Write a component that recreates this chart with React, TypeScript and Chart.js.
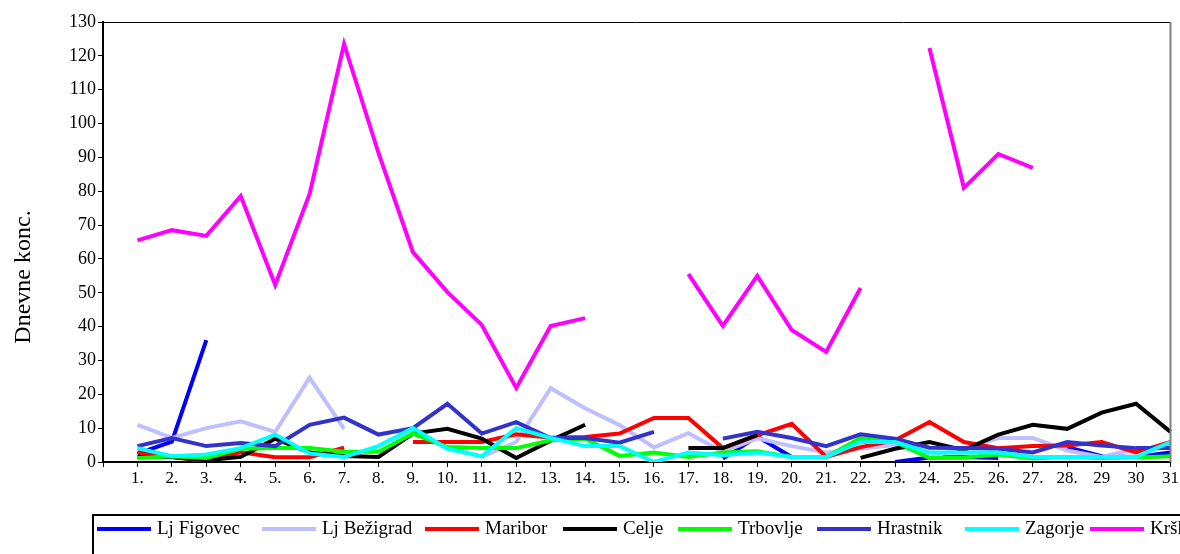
import React, { useEffect, useRef } from "react";
import { Chart, registerables } from "chart.js";

Chart.register(...registerables);

const categories = ["", "1.", "2.", "3.", "4.", "5.", "6.", "7.", "8.", "9.", "10.", "11.", "12.", "13.", "14.", "15.", "16.", "17.", "18.", "19.", "20.", "21.", "22.", "23.", "24.", "25.", "26.", "27.", "28.", "29", "30", "31"];

const yTicks = [0, 10, 20, 30, 40, 50, 60, 70, 80, 90, 100, 110, 120, 130];

const ljFigovec = [2.5, 6, 36, null, null, null, null, null, null, null, null, null, null, null, null, null, null, 1, 7.5, 1.5, null, null, 0, 1.3, 1.5, 1.2, null, 4.4, 1.7, 1.5, 2.8];
const ljBezigrad = [11, 7.1, 10, 12, 8.9, 24.9, 9.8, null, null, null, 1.5, 5.9, 21.8, 15.9, 10.9, 4.3, 8.5, 3, 7, 4.7, 2.8, 4, 5, 1.5, 4, 7.1, 7.1, 3.4, 1.5, 3.9, 4.4];
const maribor = [2.9, 1.5, 0.2, 2.9, 1.4, 1.4, 4.2, null, 5.9, 5.9, 5.9, 8.2, 7.2, 7.4, 8.4, 13, 13, 4.1, 7.9, 11.3, 1.5, 4.4, 6.4, 11.8, 5.9, 4.1, 4.7, 4.9, 5.9, 2.8, 5.9];
const celje = [1.5, 1.5, 0.5, 1.5, 6.9, 2.8, 1.8, 1.5, 8.4, 9.8, 6.9, 1.2, 6.3, 11, null, null, 4.1, 4.1, 8, null, null, 1.2, 3.9, 5.9, 3.5, 8.1, 11, 9.8, 14.6, 17.2, 8.9];
const trbovlje = [1.2, 1.7, 1.2, 3.9, 4.1, 4.1, 3, 3, 8.4, 4.4, 4.1, 4.1, 6.4, 6.9, 1.8, 2.8, 1.5, 2.8, 3.2, 1.5, 1.5, 7.1, 6, 1.2, 1.3, 2.2, 1, 1.5, 1.2, 1.3, 1.7];
const hrastnik = [4.7, 7.1, 4.7, 5.6, 4.7, 11, 13.1, 8.1, 10, 17.2, 8.4, 11.8, 7.1, 7.1, 5.7, 8.9, null, 6.9, 8.9, 7.1, 4.7, 8.2, 6.9, 4.2, 4.1, 3.9, 2.8, 5.9, 4.9, 4.1, 4.1];
const zagorje = [4.1, 1.7, 2.2, 4.1, 8.1, 2.5, 1.5, 4.7, 10, 3.9, 1.7, 10, 7.1, 4.7, 4.7, 0, 2.8, 2, 2.8, 1.5, 1.5, 5.9, 5.9, 2.8, 2.8, 2.8, 1.5, 1.5, 1.5, 1.5, 5.9];
const krsko = [65.5, 68.5, 66.8, 78.6, 52.3, 79.2, 123.5, 91.3, 62, 50.2, 40.5, 21.9, 40.2, 42.5, null, null, 55.5, 40.2, 55, 39, 32.5, 51.4, null, 122.3, 81, 91, 86.9, null, null, null, null];

const seriesNames = ["Lj Figovec", "Lj Bežigrad", "Maribor", "Celje", "Trbovlje", "Hrastnik", "Zagorje", "Krško"];
const seriesData = [ljFigovec, ljBezigrad, maribor, celje, trbovlje, hrastnik, zagorje, krsko];
const seriesColors = ["#0000FF", "#BFBFFF", "#FF0000", "#000000", "#00FF00", "#3333CC", "#00FFFF", "#FF00FF"];

const yTitle = "Dnevne konc.";
const FONT = "'Liberation Serif', 'Times New Roman', serif";

const legendLineX = [97, 262, 425, 563, 678, 817, 965, 1090];

const decorPlugin = {
  id: "decor",
  afterDraw(chart: any) {
    const ctx = chart.ctx;
    const a = chart.chartArea;
    ctx.save();
    ctx.strokeStyle = "#000";
    ctx.lineWidth = 1;
    ctx.beginPath();
    ctx.moveTo(a.left, a.top + 0.5);
    ctx.lineTo(a.right, a.top + 0.5);
    ctx.stroke();
    ctx.strokeStyle = "#808080";
    ctx.lineWidth = 2;
    ctx.beginPath();
    ctx.moveTo(a.right, a.top);
    ctx.lineTo(a.right, a.bottom);
    ctx.stroke();
    ctx.fillStyle = "#000";
    ctx.font = `24px ${FONT}`;
    ctx.textAlign = "center";
    ctx.textBaseline = "middle";
    ctx.translate(24, 277);
    ctx.rotate(-Math.PI / 2);
    ctx.fillText(yTitle, 0, 0);
    ctx.restore();

    ctx.save();
    ctx.strokeStyle = "#000";
    ctx.lineWidth = 2;
    ctx.strokeRect(93, 515, 1200, 80);
    const ly = 529;
    ctx.font = `19px ${FONT}`;
    ctx.textAlign = "left";
    ctx.textBaseline = "middle";
    seriesNames.forEach((name, i) => {
      const x0 = legendLineX[i];
      ctx.strokeStyle = seriesColors[i];
      ctx.lineWidth = 4;
      ctx.beginPath();
      ctx.moveTo(x0, ly);
      ctx.lineTo(x0 + 54, ly);
      ctx.stroke();
      ctx.fillStyle = "#000";
      ctx.fillText(name, x0 + 60, ly);
    });
    ctx.restore();
  },
};

export default function App() {
  const ref = useRef<HTMLCanvasElement>(null);
  useEffect(() => {
    const canvas = ref.current!;
    const datasets = seriesNames.map((name, i) => ({
      label: name,
      data: [null, ...seriesData[i]],
      borderColor: seriesColors[i],
      backgroundColor: seriesColors[i],
      borderWidth: 4,
      pointRadius: 0,
      tension: 0,
      spanGaps: false,
      fill: false,
      order: seriesNames.length - i,
      borderJoinStyle: "miter" as const,
    }));
    const chart = new Chart(canvas, {
      type: "line",
      data: { labels: categories, datasets },
      options: {
        animation: false,
        responsive: false,
        maintainAspectRatio: false,
        layout: { padding: { left: 0, top: 22, right: 8, bottom: 62 } },
        plugins: { legend: { display: false }, tooltip: { enabled: false }, title: { display: false } },
        scales: {
          x: {
            type: "category",
            offset: false,
            afterFit: (s: any) => { s.height = 30; },
            grid: { display: true, drawOnChartArea: false, drawTicks: true, tickLength: 5, color: "#000", lineWidth: 1 },
            border: { display: true, color: "#000", width: 2 },
            ticks: { autoSkip: false, maxRotation: 0, minRotation: 0, padding: 1, color: "#000", font: { family: FONT, size: 17 } },
          },
          y: {
            type: "linear",
            min: 0,
            max: 130,
            afterFit: (s: any) => { s.width = 103; },
            afterBuildTicks: (s: any) => { s.ticks = yTicks.map((v) => ({ value: v })); },
            grid: { display: true, drawOnChartArea: false, drawTicks: true, tickLength: 5, color: "#000", lineWidth: 1 },
            border: { display: true, color: "#000", width: 2 },
            ticks: { padding: 2, color: "#000", font: { family: FONT, size: 18 } },
          },
        },
      },
      plugins: [decorPlugin],
    });
    return () => chart.destroy();
  }, []);
  return (
    <div style={{ position: "absolute", left: 0, top: 0, width: 1180, height: 554, overflow: "hidden", background: "#fff" }}>
      <canvas ref={ref} width={1180} height={554} style={{ width: 1180, height: 554, display: "block" }} />
    </div>
  );
}
